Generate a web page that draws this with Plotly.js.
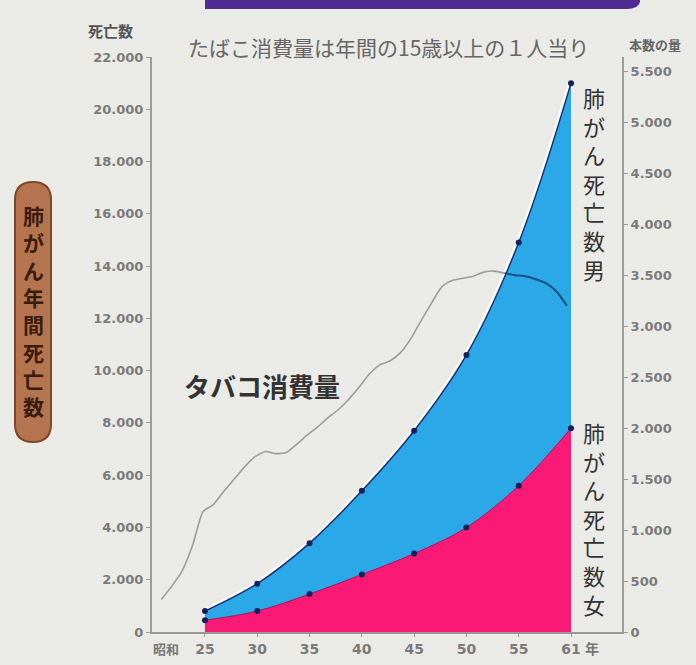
<!DOCTYPE html>
<html>
<head>
<meta charset="utf-8">
<script src="https://cdn.plot.ly/plotly-3.0.1.min.js"></script>
<style>
html,body{margin:0;padding:0;background:#eaeae6;}
#chart{width:696px;height:665px;}
</style>
</head>
<body>
<div id="chart"></div>
<script>
// ---- data ----
const years = ['25', '30', '35', '40', '45', '50', '55', '61'];
const maleDeaths = [800, 1850, 3400, 5400, 7700, 10600, 14900, 21000];
const femaleDeaths = [450, 800, 1450, 2200, 3000, 4000, 5600, 7800];

const tobaccoYears = [21, 22, 23, 24, 25, 26, 27, 28, 29, 30, 31, 32, 33, 34, 35, 36, 37, 38, 39, 40,
  41, 42, 43, 44, 45, 46, 47, 48, 49, 50, 51, 52, 53, 54, 55, 56, 57, 58, 59, 60];
const tobaccoPerPerson = [320, 450, 600, 850, 1180, 1250, 1380, 1500, 1620, 1720, 1770, 1750, 1760, 1840, 1930, 2010, 2100, 2180, 2280, 2400,
  2530, 2620, 2660, 2740, 2880, 3060, 3230, 3390, 3450, 3470, 3490, 3530, 3540, 3520, 3500, 3490, 3460, 3420, 3340, 3200];

const leftTicks = [0, 2000, 4000, 6000, 8000, 10000, 12000, 14000, 16000, 18000, 20000, 22000];
const rightTicks = [0, 500, 1000, 1500, 2000, 2500, 3000, 3500, 4000, 4500, 5000, 5500];

// ---- geometry helpers (pixel -> paper) ----
const W = 696, H = 665;
const M = {l: 152, r: 74, t: 57, b: 33};
const PW = W - M.l - M.r, PH = H - M.t - M.b;
const px = x => (x - M.l) / PW;
const py = y => (H - M.b - y) / PH;

const splitIdx = tobaccoYears.indexOf(54);

const navy = '#15205a';
const tickFont = {family: 'DejaVu Sans', size: 13, color: '#7a7a7a', weight: 'bold'};

const traces = [
  { // white halo under male edge
    x: years, y: maleDeaths, type: 'scatter', mode: 'lines',
    line: {color: 'rgba(255,255,255,0.9)', width: 6, shape: 'spline'},
    hoverinfo: 'skip', showlegend: false
  },
  {
    x: years, y: maleDeaths, type: 'scatter', mode: 'lines+markers', name: '男',
    fill: 'tozeroy', fillcolor: '#2aa8e8',
    line: {color: '#1a3070', width: 1.5, shape: 'spline'},
    marker: {color: navy, size: 6},
    showlegend: false
  },
  {
    x: years, y: femaleDeaths, type: 'scatter', mode: 'lines+markers', name: '女',
    fill: 'tozeroy', fillcolor: '#fa1a76',
    line: {color: '#b0105a', width: 1, shape: 'spline'},
    marker: {color: navy, size: 6},
    showlegend: false
  },
  {
    x: tobaccoYears.slice(0, splitIdx + 1), y: tobaccoPerPerson.slice(0, splitIdx + 1),
    xaxis: 'x2', yaxis: 'y2', type: 'scatter', mode: 'lines',
    line: {color: '#9c9c9c', width: 1.6, shape: 'spline', smoothing: 0.6},
    showlegend: false
  },
  {
    x: tobaccoYears.slice(splitIdx), y: tobaccoPerPerson.slice(splitIdx),
    xaxis: 'x2', yaxis: 'y2', type: 'scatter', mode: 'lines',
    line: {color: '#17507f', width: 2, shape: 'spline', smoothing: 0.6},
    showlegend: false
  }
];

const vert = s => s.split('').join('<br>');

function note(text, x, y, font) {
  return {text: text, xref: 'paper', yref: 'paper', x: px(x), y: py(y),
          xanchor: 'center', yanchor: 'middle', showarrow: false, font: font};
}

const layout = {
  width: W, height: H,
  margin: M,
  paper_bgcolor: '#eaeae6',
  plot_bgcolor: 'rgba(0,0,0,0)',
  separators: ',.',
  showlegend: false,
  font: {family: 'Noto Sans CJK JP', color: '#444'},
  xaxis: {
    type: 'category', range: [-1.013, 7.975],
    showline: true, linecolor: '#9a9a9a', linewidth: 2,
    ticks: 'outside', ticklen: 3, tickcolor: '#9a9a9a',
    tickfont: {family: 'DejaVu Sans', size: 14, color: '#7a7a7a', weight: 'bold'},
    showgrid: false, zeroline: false, fixedrange: true
  },
  xaxis2: {
    overlaying: 'x', range: [20.096, 65.29], visible: false, fixedrange: true
  },
  yaxis: {
    range: [0, 22000], tickvals: leftTicks, tickformat: ',d',
    showline: true, linecolor: '#9a9a9a', linewidth: 2,
    ticks: 'outside', ticklen: 4, tickcolor: '#9a9a9a',
    tickfont: tickFont, showgrid: false, zeroline: false, fixedrange: true
  },
  yaxis2: {
    overlaying: 'y', side: 'right', range: [0, 5640], tickvals: rightTicks, tickformat: ',d',
    showline: true, linecolor: '#9a9a9a', linewidth: 2,
    ticks: 'outside', ticklen: 4, tickcolor: '#9a9a9a',
    tickfont: tickFont, showgrid: false, zeroline: false, fixedrange: true
  },
  shapes: [
    { // purple banner at top
      type: 'path', xref: 'paper', yref: 'paper',
      path: `M ${px(205)},${py(-2)} L ${px(640)},${py(-2)} L ${px(640)},${py(2)} Q ${px(638)},${py(9)} ${px(627)},${py(9)} L ${px(205)},${py(9)} Z`,
      fillcolor: '#4e2a92', line: {width: 0}
    },
    { // brown pill behind vertical axis title
      type: 'path', xref: 'paper', yref: 'paper',
      path: `M ${px(15)},${py(200)} Q ${px(15)},${py(182)} ${px(33)},${py(182)} Q ${px(51)},${py(182)} ${px(51)},${py(200)} L ${px(51)},${py(424)} Q ${px(51)},${py(442)} ${px(33)},${py(442)} Q ${px(15)},${py(442)} ${px(15)},${py(424)} Z`,
      fillcolor: '#b57450', line: {color: '#7e4526', width: 2}
    }
  ],
  annotations: [
    note('死亡数', 110, 30, {size: 15, color: '#555', weight: 'bold'}),
    note('たばこ消費量は年間の15歳以上の１人当り', 388, 47, {size: 21, color: '#666'}),
    note('本数の量', 655, 45, {size: 13, color: '#666', weight: 'bold'}),
    note('タバコ消費量', 262, 385, {size: 26, color: '#333', weight: 'bold'}),
    note(vert('肺がん死亡数男'), 594, 183, {size: 22, color: '#333'}),
    note(vert('肺がん死亡数女'), 594, 518, {size: 22, color: '#333'}),
    note(vert('肺がん年間死亡数'), 33, 310, {size: 21, color: '#3a1c0c', weight: 'bold'}),
    note('昭和', 166, 648, {size: 13, color: '#777', weight: 'bold'}),
    note('年', 592, 648, {size: 14, color: '#777', weight: 'bold'})
  ]
};

Plotly.newPlot('chart', traces, layout, {displayModeBar: false, staticPlot: true});
</script>
</body>
</html>
